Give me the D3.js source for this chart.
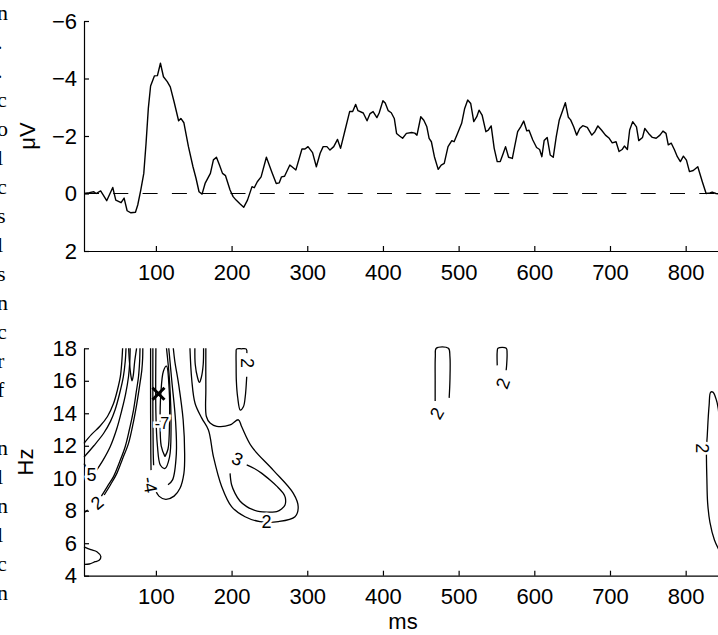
<!DOCTYPE html>
<html>
<head>
<meta charset="utf-8">
<script src="https://cdn.jsdelivr.net/npm/d3@7"></script>
<style>
body { margin: 0; background: #fff; }
svg { display: block; font-family: "Liberation Sans", Arial, sans-serif; }
</style>
</head>
<body>
<svg></svg>
<script>
// ERP waveform (ms, µV; negative plotted up)
const erpMs = [5, 12, 18, 21, 27, 35, 43, 47, 54, 58, 62, 67, 73, 76, 80, 84, 87, 90, 93, 98, 102, 106, 110, 115, 119, 124, 130, 133, 137, 143, 149, 153, 157, 161, 165, 172, 176, 180, 184, 188, 192, 198, 202, 206, 211, 216, 221, 227, 230, 234, 239, 246, 253, 259, 263, 266, 270, 277, 285, 293, 297, 301, 307, 312, 317, 321, 326, 330, 335, 340, 344, 350, 356, 360, 364, 367, 374, 379, 383, 387, 392, 395, 400, 403, 407, 411, 415, 418, 422, 426, 431, 438, 442, 445, 450, 454, 458, 461, 464, 468, 473, 477, 481, 486, 491, 494, 498, 504, 508, 512, 516, 520, 524, 527, 531, 536, 539, 543, 547, 551, 555, 559, 562, 566, 571, 574, 578, 582, 586, 590, 593, 598, 603, 607, 610, 613, 617, 621, 625, 629, 633, 637, 641, 645, 648, 652, 656, 660, 664, 670, 676, 680, 684, 689, 694, 699, 703, 708, 712, 716, 719, 723, 726, 730, 735, 738, 743, 746, 751, 756, 761, 766, 770, 774, 777, 781, 785, 789, 793, 797, 801, 805, 810, 816, 822, 827, 832, 835, 840, 848];
const erpUv = [0, -0.03, -0.06, 0, -0.09, 0.25, -0.21, 0.23, 0.32, 0.16, 0.6, 0.67, 0.65, 0.4, -0.12, -0.7, -1.75, -2.96, -3.74, -4.09, -4.1, -4.53, -4.06, -3.89, -3.71, -3.19, -2.53, -2.61, -2.46, -1.63, -0.93, -0.53, -0.06, 0.02, -0.35, -0.7, -1.17, -1.26, -0.99, -0.7, -0.62, -0.12, 0.11, 0.23, 0.36, 0.48, 0.23, -0.24, -0.2, -0.41, -0.58, -1.26, -0.76, -0.35, -0.37, -0.58, -0.6, -0.99, -0.82, -1.55, -1.55, -1.63, -1.42, -0.93, -1.4, -1.63, -1.63, -1.51, -1.63, -1.88, -1.57, -2.21, -2.85, -2.85, -3.1, -2.88, -2.8, -2.53, -2.78, -2.85, -2.64, -2.8, -3.23, -3.15, -2.88, -2.81, -2.61, -2.09, -2.0, -1.92, -2.09, -2.12, -2.1, -2.03, -2.67, -2.55, -2.32, -1.92, -1.8, -1.28, -0.84, -0.99, -1.05, -1.63, -1.84, -1.8, -2.05, -2.44, -2.96, -3.25, -3.13, -2.5, -2.67, -2.9, -2.73, -2.15, -2.2, -2.35, -1.57, -1.11, -1.11, -1.4, -1.63, -1.26, -1.22, -1.63, -2.15, -2.32, -2.52, -2.18, -2.2, -1.86, -1.6, -1.53, -1.28, -1.84, -1.95, -1.34, -1.26, -1.98, -2.56, -2.85, -3.16, -2.65, -2.56, -2.32, -2.03, -2.26, -2.36, -2.3, -2.03, -2.15, -2.35, -2.2, -2.03, -1.92, -1.76, -1.8, -1.46, -1.53, -1.65, -1.53, -2.21, -2.5, -2.32, -1.84, -1.95, -2.26, -2.09, -1.95, -1.92, -2.03, -2.17, -2.09, -1.69, -1.75, -1.53, -1.28, -1.11, -1.3, -1.16, -0.76, -0.8, -0.93, -0.41, 0, -0.02, -0.05, 0, 0.02];

const msTicks = [100, 200, 300, 400, 500, 600, 700, 800];
const uvTicks = [-6, -4, -2, 0, 2];
const hzTicks = [4, 6, 8, 10, 12, 14, 16, 18];

// time-frequency contour lines, points as [ms, Hz]
const contourLines = [
  // left group
  [[5, 12.15], [15, 12.7], [26, 13.2], [36, 13.8], [44, 14.6], [49, 15.4], [53, 16.25], [55, 17.2], [56, 18]],
  [[5, 11.3], [18, 12], [31, 12.77], [40, 13.5], [46, 14.2], [52, 15.2], [57, 16.25], [59.5, 17.2], [60.5, 18]],
  [[5, 10.9], [8, 10.7]],
  [[21, 10.45], [30, 11.1], [39.6, 11.94], [48, 13], [55, 14.2], [60, 15.2], [63.8, 16.25], [65.5, 17.2], [66, 18]],
  [[5.5, 7.9], [10, 8.05]],
  [[28, 8.9], [36, 9.5], [44, 10.1], [52, 11], [59.4, 11.94], [65, 13], [70.4, 14.2], [74, 15.3], [77, 16.25], [78.5, 17.2], [79, 18]],
  [[31.7, 8.97], [40, 9.6], [48.4, 10.3], [56, 11.2], [63.8, 12.15], [70, 13.4], [74.8, 14.6], [78.5, 15.7], [81.4, 16.66], [82.5, 17.4], [82.7, 18]],
  [[64, 18], [65, 17.2], [67, 16.3], [68.5, 16], [70, 16.3], [72, 17.2], [74.5, 18]],
  // middle group
  [[93, 18], [93, 14], [93.3, 11.5], [93.6, 10.5]],
  [[99, 9.3], [104, 8.9], [113, 8.7], [124, 8.9], [132, 9.4], [137, 10.3], [138, 11.5], [136, 13.6], [130, 15.8], [125, 17.2], [123, 18]],
  [[96, 18], [96, 14], [96.5, 11.5], [97, 10.8]],
  [[116, 9.6], [122, 9.9], [127, 11.5], [126, 13.5], [121, 16], [117, 18]],
  [[100, 18], [100, 14], [102, 12], [106, 10.8], [112, 10.6], [118, 11.3], [120, 13], [118, 16], [114, 18]],
  [[112, 11.33], [116, 11.8], [118, 13.5], [117.5, 15.5], [114, 16.9], [110, 16.6], [106.5, 15.2], [105.6, 13.5], [107, 12], [112, 11.33]],
  // right group
  [[145, 18], [147.4, 16.05], [151.8, 14.6], [160.6, 13.7], [169.4, 12.97], [176, 11.33], [187, 9.48], [200, 8.25], [217.8, 7.63], [237.6, 7.33], [261.8, 7.33], [283.8, 7.63], [288, 8.25], [281.6, 9.07], [255, 10.5], [226.6, 11.94], [213.4, 13.17], [209, 13.6], [198, 13.28], [180.4, 13.2], [171.6, 13.4], [166.7, 13.8], [166, 15.5], [166, 18]],
  [[151.5, 18], [152, 17], [155, 16.2], [157.5, 15.9], [160, 16.2], [162.5, 17], [163, 18]],
  [[198, 10.3], [200, 9.6], [204.6, 9.07], [211, 8.6], [220, 8.25], [229, 8.05], [237.6, 7.94], [250, 7.92], [259.6, 7.94], [266, 8.1], [270.6, 8.35], [271, 8.8], [268.4, 9.07], [260, 9.5], [250.8, 9.89], [240, 10.3], [230, 10.6], [220, 10.82]],
  [[220, 16.25], [218, 15], [215.6, 14.4], [211.5, 14.2], [208, 15], [206.3, 16], [206, 17], [206, 17.75], [206.5, 17.95], [213, 17.97], [219.5, 17.95], [220.2, 17.7]],
  // later small contours
  [[469, 14.75], [469, 16], [469.2, 17.5], [470.5, 18], [486.5, 18], [488.5, 17.5], [488.5, 16], [487.5, 14.95]],
  [[551, 16.95], [551, 17.8], [552, 18], [563, 18], [564, 17.7], [563.5, 17], [562.8, 16.65]],
  [[845, 13], [843, 14.3], [840, 14.9], [836, 15.3], [833, 15.3], [831, 14.5], [829.5, 13.5], [828.5, 12.6], [827.5, 11.9], [827.5, 11.1], [828, 10], [829, 8.5], [832, 7.3], [838, 6.2], [845, 5.5]],
  // low-frequency blob at left edge
  [[5, 5.78], [14, 5.6], [22, 5.48], [27.3, 5.17], [25, 4.95], [19.8, 4.86], [12, 4.72], [5, 4.7]]
];

const contourLabels = [
  { ms: 15, hz: 10.25, text: '5', rot: 0 },
  { ms: 22, hz: 8.5, text: '2', rot: -40 },
  { ms: 92.5, hz: 9.6, text: '-4', rot: 80 },
  { ms: 108, hz: 13.4, text: '-7', rot: 0 },
  { ms: 208, hz: 11.2, text: '3', rot: 25 },
  { ms: 246, hz: 7.33, text: '2', rot: 0 },
  { ms: 221, hz: 17.1, text: '2', rot: 90 },
  { ms: 471, hz: 14.0, text: '2', rot: -60 },
  { ms: 558, hz: 15.85, text: '2', rot: -70 },
  { ms: 822, hz: 11.85, text: '2', rot: 90 }
];

const peakMark = [103.4, 15.2];

// cropped text from the neighbouring page column
const edgeGlyphs = ['n', '.', '.', 'c', 'o', 'l', 'c', 's', 'l', 's', 'n', 'c', 'r', 'f', '', 'n', 'l', 'n', 'l', 'c', 'n'];

const svg = d3.select('svg')
  .attr('width', 718)
  .attr('height', 635);

const x = d3.scaleLinear().domain([5, 848]).range([84, 722]);
const yUv = d3.scaleLinear().domain([-6, 2]).range([21, 251]);
const yHz = d3.scaleLinear().domain([4, 18]).range([575.7, 348.3]);

const styleAxis = g => {
  g.selectAll('.domain').attr('stroke', '#000').attr('stroke-width', 1.2);
  g.selectAll('.tick line').attr('stroke', '#000').attr('stroke-width', 1.2);
  g.selectAll('.tick text').attr('fill', '#000').style('font-size', '22px');
};

// ---- top panel ----
const erpG = svg.append('g');

erpG.append('g')
  .attr('transform', `translate(0, ${yUv(2)})`)
  .call(d3.axisBottom(x).tickValues(msTicks).tickSizeInner(-5).tickSizeOuter(0).tickPadding(13))
  .call(styleAxis);

erpG.append('g')
  .attr('transform', `translate(${x(5)}, 0)`)
  .call(d3.axisLeft(yUv).tickValues(uvTicks).tickSizeInner(-5).tickSizeOuter(0).tickPadding(7))
  .call(styleAxis);

erpG.append('line')
  .attr('x1', x(5)).attr('x2', x(848))
  .attr('y1', yUv(0)).attr('y2', yUv(0))
  .attr('stroke', '#000')
  .attr('stroke-width', 1.2)
  .attr('stroke-dasharray', '15 14.3');

const erpLine = d3.line()
  .x((d, i) => x(erpMs[i]))
  .y(d => yUv(d));

erpG.append('path')
  .datum(erpUv)
  .attr('d', erpLine)
  .attr('fill', 'none')
  .attr('stroke', '#000')
  .attr('stroke-width', 1.4)
  .attr('stroke-linejoin', 'round');

erpG.append('text')
  .attr('transform', `translate(35, ${(yUv(-6) + yUv(2)) / 2}) rotate(-90)`)
  .attr('text-anchor', 'middle')
  .style('font-size', '22px')
  .text('\u03bcV');

// ---- bottom panel ----
const tfG = svg.append('g');

tfG.append('g')
  .attr('transform', `translate(0, ${yHz(4)})`)
  .call(d3.axisBottom(x).tickValues(msTicks).tickSizeInner(-5).tickSizeOuter(0).tickPadding(13))
  .call(styleAxis);

tfG.append('g')
  .attr('transform', `translate(${x(5)}, 0)`)
  .call(d3.axisLeft(yHz).tickValues(hzTicks).tickSizeInner(-5).tickSizeOuter(0).tickPadding(7))
  .call(styleAxis);

const contourLine = d3.line()
  .x(d => x(d[0]))
  .y(d => yHz(d[1]))
  .curve(d3.curveCatmullRom.alpha(0.5));

tfG.append('g')
  .selectAll('path')
  .data(contourLines)
  .enter()
  .append('path')
    .attr('d', contourLine)
    .attr('fill', 'none')
    .attr('stroke', '#000')
    .attr('stroke-width', 1.3);

tfG.append('g')
  .selectAll('text')
  .data(contourLabels)
  .enter()
  .append('text')
    .attr('transform', d => `translate(${x(d.ms)}, ${yHz(d.hz)}) rotate(${d.rot})`)
    .attr('text-anchor', 'middle')
    .attr('dy', '0.36em')
    .style('font-size', d => d.text === '-7' ? '16px' : '18px')
    .style('paint-order', 'stroke')
    .attr('stroke', '#fff')
    .attr('stroke-width', 5)
    .attr('fill', '#000')
    .text(d => d.text);

const mx = x(peakMark[0]), my = yHz(peakMark[1]);
tfG.append('path')
  .attr('d', `M${mx - 6},${my - 6}L${mx + 6},${my + 6}M${mx - 6},${my + 6}L${mx + 6},${my - 6}`)
  .attr('stroke', '#000')
  .attr('stroke-width', 3);

tfG.append('text')
  .attr('transform', `translate(33, ${(yHz(4) + yHz(18)) / 2}) rotate(-90)`)
  .attr('text-anchor', 'middle')
  .style('font-size', '22px')
  .text('Hz');

tfG.append('text')
  .attr('x', (x(5) + x(848)) / 2)
  .attr('y', 629)
  .attr('text-anchor', 'middle')
  .style('font-size', '22px')
  .text('ms');

// page edge fragments
svg.append('g')
  .selectAll('text')
  .data(edgeGlyphs)
  .enter()
  .append('text')
    .attr('x', -3)
    .attr('y', (d, i) => 20 + i * 29)
    .style('font-family', '"Liberation Serif", serif')
    .style('font-size', '22px')
    .text(d => d);
</script>
</body>
</html>
